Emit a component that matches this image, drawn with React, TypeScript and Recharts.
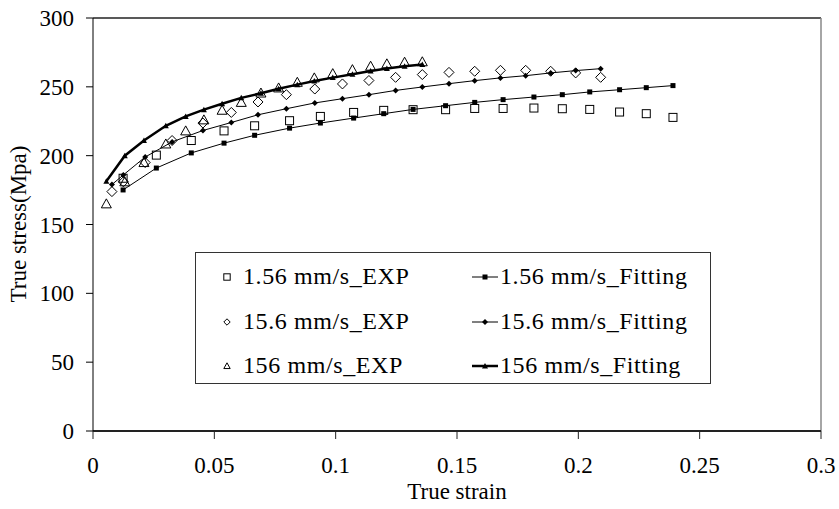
import { ScatterChart, Scatter, XAxis, YAxis, ReferenceLine, Legend } from 'recharts';

// strain / stress values
const strain156Low = [0.0124, 0.0261, 0.0405, 0.054, 0.0666, 0.081, 0.0937, 0.1074, 0.1198, 0.1319, 0.1453, 0.1573, 0.169, 0.1817, 0.1934, 0.2047, 0.217, 0.228, 0.239];
const exp156Low = [183.6, 200.4, 211, 218, 221.7, 225.4, 228.5, 231.4, 232.9, 233.4, 233.4, 234.3, 234.3, 234.6, 234.1, 233.6, 231.7, 230.5, 227.8];
const fit156Low = [175.1, 191, 202, 209.1, 214.8, 220, 223.7, 227.3, 230.5, 233.6, 236.3, 238.7, 240.7, 242.6, 244.3, 246.3, 247.9, 249.4, 250.9];

const strain156Mid = [0.0078, 0.0125, 0.0215, 0.0326, 0.0453, 0.057, 0.068, 0.0797, 0.0914, 0.1028, 0.1137, 0.1247, 0.1357, 0.1467, 0.1573, 0.1679, 0.1783, 0.1886, 0.1989, 0.2092];
const exp156Mid = [173.9, 181, 195, 211, 223.7, 231.4, 239, 244.3, 248.4, 252.1, 254.6, 256.9, 258.9, 260.5, 261.3, 262, 262, 261.3, 260.1, 256.9];
const fit156Mid = [179, 186, 199, 210, 218.3, 224.1, 229.7, 234.1, 238.3, 241.4, 244.3, 247.4, 249.9, 252.3, 254.5, 256.5, 258.1, 260.1, 261.8, 263.2];

const strain156High = [0.0055, 0.0131, 0.021, 0.03, 0.0382, 0.0457, 0.0532, 0.0611, 0.0692, 0.0765, 0.0842, 0.0912, 0.0988, 0.1069, 0.1144, 0.1211, 0.1284, 0.1357];
const exp156High = [165, 181, 195, 208.5, 218, 226, 233, 238.7, 245.5, 249.2, 253.3, 256.5, 259.6, 262.5, 265, 266.7, 267.9, 268.2];
const fit156High = [181.4, 200, 211, 221.7, 228.5, 233.4, 237.7, 242, 245.3, 248.6, 251.6, 254.2, 256.7, 259.2, 261.5, 263.3, 265, 266.3];

const xTicks = [0, 0.05, 0.1, 0.15, 0.2, 0.25, 0.3];
const yTicks = [0, 50, 100, 150, 200, 250, 300];

const expLabels = ['1.56 mm/s_EXP', '15.6 mm/s_EXP', '156 mm/s_EXP'];
const fitLabels = ['1.56 mm/s_Fitting', '15.6 mm/s_Fitting', '156 mm/s_Fitting'];

const FONT = "'Liberation Serif', 'Times New Roman', serif";

const toPoints = (xs: number[], ys: number[]) => xs.map((x, i) => ({ x, y: ys[i] }));

// marker shapes, r = half size
const openSquare = (p: any, r = 4) => (
  <rect x={p.cx - r} y={p.cy - r} width={2 * r} height={2 * r} fill="none" stroke="#000" strokeWidth={1} />
);
const openDiamond = (p: any, r = 5) => (
  <path d={`M${p.cx},${p.cy - r}L${p.cx + r},${p.cy}L${p.cx},${p.cy + r}L${p.cx - r},${p.cy}Z`} fill="none" stroke="#000" strokeWidth={1} />
);
const openTriangle = (p: any, r = 5) => (
  <path d={`M${p.cx},${p.cy - r}L${p.cx + r},${p.cy + r * 0.8}L${p.cx - r},${p.cy + r * 0.8}Z`} fill="none" stroke="#000" strokeWidth={1} />
);
const filledSquare = (p: any) => <rect x={p.cx - 2.5} y={p.cy - 2.5} width={5} height={5} fill="#000" />;
const filledDiamond = (p: any) => (
  <path d={`M${p.cx},${p.cy - 3}L${p.cx + 3},${p.cy}L${p.cx},${p.cy + 3}L${p.cx - 3},${p.cy}Z`} fill="#000" />
);
const filledTriangle = (p: any) => (
  <path d={`M${p.cx},${p.cy - 3}L${p.cx + 3},${p.cy + 2.5}L${p.cx - 3},${p.cy + 2.5}Z`} fill="#000" />
);

const expShapes = [openSquare, openDiamond, openTriangle];
const fitShapes = [filledSquare, filledDiamond, filledTriangle];
const fitWidths = [1, 1, 2.5];

function LegendBox() {
  const rows = [24, 69, 113];
  const text: React.CSSProperties = { fontFamily: FONT, fontSize: 24, letterSpacing: 0.6, color: '#000', whiteSpace: 'nowrap', lineHeight: '28px' };
  return (
    <div style={{ position: 'relative', width: 516, height: 132, border: '1.5px solid #333', boxSizing: 'border-box', background: '#fff' }}>
      {rows.map((cy, i) => (
        <div key={'e' + i}>
          <svg style={{ position: 'absolute', left: 24, top: cy - 7 }} width={14} height={14}>
            {expShapes[i]({ cx: 7, cy: 7 }, 3.2)}
          </svg>
          <div style={{ ...text, position: 'absolute', left: 47, top: cy - 15 }}>{expLabels[i]}</div>
          <svg style={{ position: 'absolute', left: 275, top: cy - 7 }} width={28} height={14}>
            <line x1={1} y1={7} x2={27} y2={7} stroke="#000" strokeWidth={fitWidths[i]} />
            {fitShapes[i]({ cx: 14, cy: 7 })}
          </svg>
          <div style={{ ...text, position: 'absolute', left: 304, top: cy - 15 }}>{fitLabels[i]}</div>
        </div>
      ))}
    </div>
  );
}

const YTitle = () => (
  <text x={18} y={224} transform="rotate(-90 18 224)" textAnchor="middle" dominantBaseline="central" fontFamily={FONT} fontSize={23} fill="#000">
    True stress(Mpa)
  </text>
);
const XTitle = () => (
  <text x={457} y={499} textAnchor="middle" fontFamily={FONT} fontSize={23} fill="#000">
    True strain
  </text>
);

export default function App() {
  const expSets = [
    toPoints(strain156Low, exp156Low),
    toPoints(strain156Mid, exp156Mid),
    toPoints(strain156High, exp156High),
  ];
  const fitSets = [
    toPoints(strain156Low, fit156Low),
    toPoints(strain156Mid, fit156Mid),
    toPoints(strain156High, fit156High),
  ];
  const tickStyle = { fontFamily: FONT, fontSize: 23, fill: '#000' };

  return (
    <div style={{ position: 'absolute', left: 0, top: 0, background: '#fff' }}>
      <ScatterChart width={839} height={509} margin={{ top: 18, right: 18, bottom: 6, left: 33 }}>
        <XAxis
          type="number"
          dataKey="x"
          domain={[0, 0.3]}
          ticks={xTicks}
          height={72}
          tickSize={8}
          tickMargin={18}
          tick={tickStyle}
          axisLine={{ stroke: '#222', strokeWidth: 2 }}
          tickLine={{ stroke: '#222' }}
          label={<XTitle />}
        />
        <YAxis
          type="number"
          dataKey="y"
          domain={[0, 300]}
          ticks={yTicks}
          width={60}
          tickSize={7}
          tickMargin={12}
          tick={tickStyle}
          axisLine={{ stroke: '#000' }}
          tickLine={{ stroke: '#000' }}
          label={<YTitle />}
        />
        <ReferenceLine y={300} stroke="#222" strokeWidth={1.5} />
        <ReferenceLine x={0.3} stroke="#888" strokeWidth={1.5} />
        {expSets.map((d, i) => (
          <Scatter key={'exp' + i} data={d} shape={(p: any) => expShapes[i](p)} isAnimationActive={false} legendType="none" />
        ))}
        {fitSets.map((d, i) => (
          <Scatter
            key={'fit' + i}
            data={d}
            shape={fitShapes[i]}
            line={{ stroke: '#000', strokeWidth: fitWidths[i] }}
            isAnimationActive={false}
            legendType="none"
          />
        ))}
        <Legend
          layout="vertical"
          align="center"
          verticalAlign="middle"
          content={() => <LegendBox />}
          wrapperStyle={{ left: 195, top: 252, width: 516, height: 132 }}
        />
      </ScatterChart>
    </div>
  );
}
